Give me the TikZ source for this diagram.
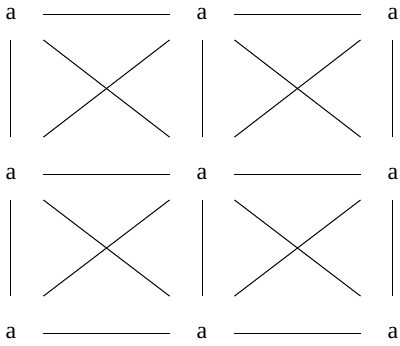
\documentclass[tikz,border=0pt]{standalone}
\usepackage{fontspec}
\setmainfont{Liberation Serif}
\usepackage{tikz}
\usetikzlibrary{positioning}
\tikzset{
  letter/.style={rectangle, inner sep=0pt, anchor=base,
    minimum width=1.125cm, text height=21pt, text depth=10pt,
    align=center, font=\fontsize{12}{14}\selectfont},
  edge/.style={line width=0.5pt, color=black}
}
\begin{document}
\begin{tikzpicture}
  \useasboundingbox (-0.193,0.343) rectangle (6.836,-5.72);

  % grid of letters
  \node[letter] (a11) at (0,0) {a};
  \node[letter] (a12) at (3.357,0) {a};
  \node[letter] (a13) at (6.713,0) {a};
  \node[letter] (a21) at (0,-2.812) {a};
  \node[letter] (a22) at (3.357,-2.812) {a};
  \node[letter] (a23) at (6.713,-2.812) {a};
  \node[letter] (a31) at (0,-5.606) {a};
  \node[letter] (a32) at (3.357,-5.606) {a};
  \node[letter] (a33) at (6.713,-5.606) {a};

  % horizontal sides
  \draw[edge] (a11.mid east) -- (a12.mid west);
  \draw[edge] (a12.mid east) -- (a13.mid west);
  \draw[edge] (a21.mid east) -- (a22.mid west);
  \draw[edge] (a22.mid east) -- (a23.mid west);
  \draw[edge] (a31.mid east) -- (a32.mid west);
  \draw[edge] (a32.mid east) -- (a33.mid west);

  % vertical sides
  \draw[edge] (a11) -- (a21);
  \draw[edge] (a12) -- (a22);
  \draw[edge] (a13) -- (a23);
  \draw[edge] (a21) -- (a31);
  \draw[edge] (a22) -- (a32);
  \draw[edge] (a23) -- (a33);

  % crossings
  \draw[edge] (a11.south east) -- (a22.north west);
  \draw[edge] (a21.north east) -- (a12.south west);
  \draw[edge] (a12.south east) -- (a23.north west);
  \draw[edge] (a22.north east) -- (a13.south west);
  \draw[edge] (a21.south east) -- (a32.north west);
  \draw[edge] (a31.north east) -- (a22.south west);
  \draw[edge] (a22.south east) -- (a33.north west);
  \draw[edge] (a32.north east) -- (a23.south west);
\end{tikzpicture}
\end{document}
